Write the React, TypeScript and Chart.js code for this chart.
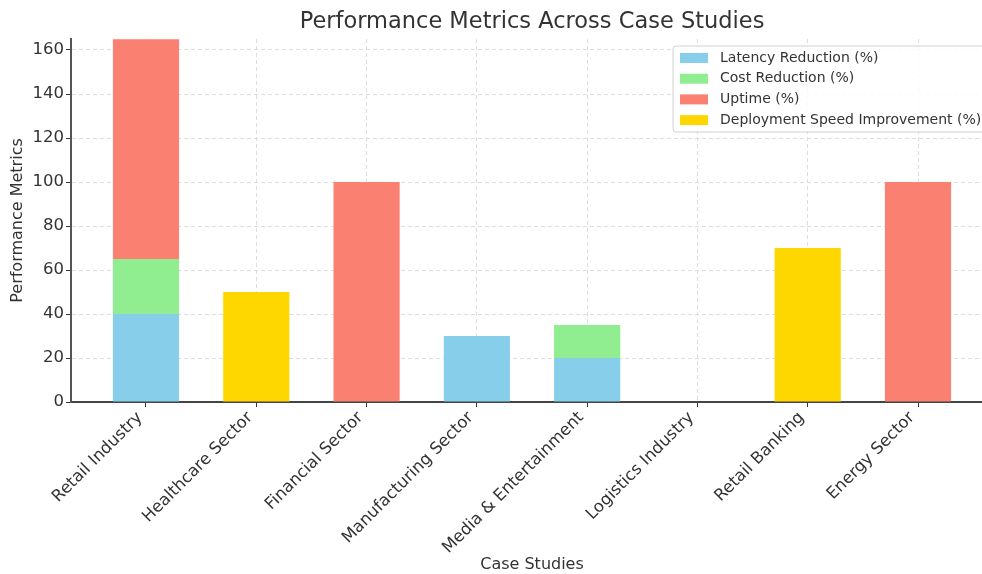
import React, { useEffect, useRef } from "react";
import { Chart, registerables } from "chart.js";

Chart.register(...registerables);

const categories = [
  "Retail Industry",
  "Healthcare Sector",
  "Financial Sector",
  "Manufacturing Sector",
  "Media & Entertainment",
  "Logistics Industry",
  "Retail Banking",
  "Energy Sector",
];
const latencyReduction = [40, null, null, 30, 20, null, null, null];
const costReduction = [25, null, null, null, 15, null, null, null];
const uptime = [99.9, null, 100, null, null, null, null, 100];
const deploymentSpeed = [null, 50, null, null, null, null, 70, null];
const yTicks = [0, 20, 40, 60, 80, 100, 120, 140, 160];

const FONT = "'DejaVu Sans', sans-serif";
const TEXT = "#333333";

const legendPlugin = {
  id: "customLegend",
  afterDraw(chart: any) {
    const ctx = chart.ctx;
    const ds = chart.data.datasets;
    ctx.save();
    const x0 = 673, y0 = 46, w = 330, h = 86;
    ctx.beginPath();
    const r = 3;
    ctx.moveTo(x0 + r, y0);
    ctx.lineTo(x0 + w - r, y0);
    ctx.arcTo(x0 + w, y0, x0 + w, y0 + r, r);
    ctx.lineTo(x0 + w, y0 + h - r);
    ctx.arcTo(x0 + w, y0 + h, x0 + w - r, y0 + h, r);
    ctx.lineTo(x0 + r, y0 + h);
    ctx.arcTo(x0, y0 + h, x0, y0 + h - r, r);
    ctx.lineTo(x0, y0 + r);
    ctx.arcTo(x0, y0, x0 + r, y0, r);
    ctx.closePath();
    ctx.fillStyle = "rgba(255,255,255,0.85)";
    ctx.fill();
    ctx.strokeStyle = "#d0d0d0";
    ctx.lineWidth = 1;
    ctx.stroke();
    ctx.font = `14px ${FONT}`;
    ctx.textBaseline = "middle";
    ctx.textAlign = "left";
    ds.forEach((d: any, i: number) => {
      const cy = 58 + i * 20.7;
      ctx.fillStyle = d.backgroundColor;
      ctx.fillRect(680, cy - 5, 28, 10);
      ctx.fillStyle = TEXT;
      ctx.fillText(d.label, 720, cy);
    });
    ctx.restore();
  },
};

export default function App() {
  const ref = useRef<HTMLCanvasElement>(null);
  useEffect(() => {
    if (!ref.current) return;
    const mk = (arr: (number | null)[]) => arr.map((v, i) => ({ x: i, y: v }));
    const chart = new Chart(ref.current, {
      type: "bar",
      data: {
        datasets: [
          { label: "Latency Reduction (%)", data: mk(latencyReduction), backgroundColor: "#87CEEB" },
          { label: "Cost Reduction (%)", data: mk(costReduction), backgroundColor: "#90EE90" },
          { label: "Uptime (%)", data: mk(uptime), backgroundColor: "#FA8072" },
          { label: "Deployment Speed Improvement (%)", data: mk(deploymentSpeed), backgroundColor: "#FFD700" },
        ] as any,
      },
      options: {
        animation: false,
        responsive: false,
        maintainAspectRatio: false,
        layout: { padding: { left: 0, right: 7, top: 0, bottom: 0 } },
        datasets: { bar: { barPercentage: 0.6, categoryPercentage: 1.0 } } as any,
        plugins: {
          legend: { display: false },
          tooltip: { enabled: false },
          title: {
            display: true,
            fullSize: false,
            text: "Performance Metrics Across Case Studies",
            color: TEXT,
            font: { family: FONT, size: 22.5, weight: "normal" },
            padding: { top: 9, bottom: 3 },
          },
        },
        scales: {
          x: {
            type: "linear",
            stacked: true,
            offset: false,
            min: -0.68,
            max: 7.68,
            afterBuildTicks: (s: any) => {
              s.ticks = categories.map((_, i) => ({ value: i }));
            },
            afterFit: (s: any) => {
              s.height = 172;
            },
            ticks: {
              autoSkip: false,
              maxRotation: 45,
              minRotation: 45,
              color: TEXT,
              font: { family: FONT, size: 16.5 },
              padding: 1,
              labelOffset: -6,
              callback: (v: any) => categories[v] ?? "",
            },
            grid: {
              offset: false,
              color: "#dddddd",
              tickBorderDash: [],
              tickColor: "#333333",
              tickLength: 5,
              drawTicks: true,
            } as any,
            border: { display: true, color: "#444444", width: 2, dash: [4, 3] },
            title: {
              display: true,
              text: "Case Studies",
              color: TEXT,
              font: { family: FONT, size: 16 },
              padding: { top: 0, bottom: 0 },
            },
          },
          y: {
            stacked: true,
            min: 0,
            max: 165,
            afterBuildTicks: (s: any) => {
              s.ticks = yTicks.map((v) => ({ value: v }));
            },
            afterFit: (s: any) => {
              s.width = 71;
            },
            ticks: {
              color: TEXT,
              font: { family: FONT, size: 16.5 },
              padding: 2,
            },
            grid: {
              color: "#dddddd",
              tickBorderDash: [],
              tickColor: "#333333",
              tickLength: 5,
            } as any,
            border: { display: true, color: "#555555", width: 2, dash: [4, 3] },
            title: {
              display: true,
              text: "Performance Metrics",
              color: TEXT,
              font: { family: FONT, size: 16 },
              padding: { top: 8, bottom: 0 },
            },
          },
        },
      } as any,
      plugins: [legendPlugin],
    });
    return () => chart.destroy();
  }, []);
  return (
    <div style={{ position: "fixed", left: 0, top: 0, width: 982, height: 574, overflow: "hidden", background: "#fff" }}>
      <canvas ref={ref} width={1000} height={574} style={{ display: "block" }} />
    </div>
  );
}
